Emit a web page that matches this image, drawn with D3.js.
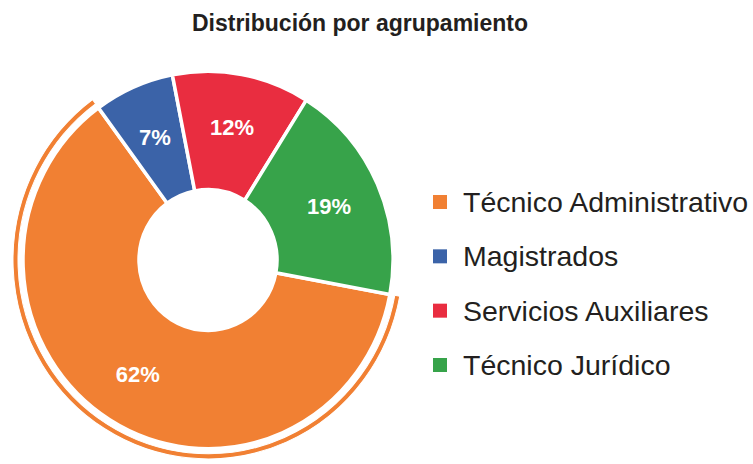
<!DOCTYPE html>
<html><head><meta charset="utf-8">
<script src="https://cdn.jsdelivr.net/npm/d3@7"></script>
<style>body{margin:0;background:#fff}svg{display:block}</style>
</head><body>
<svg id="chart" width="753" height="464"></svg>
<script>
const categories = ["Técnico Administrativo", "Magistrados", "Servicios Auxiliares", "Técnico Jurídico"];
const values = [62, 7, 12, 19];
const colors = ["#F18033", "#3B63A8", "#E92D40", "#37A34A"];
const title = "Distribución por agrupamiento";

const svg = d3.select("#chart");
const cx = 208, cy = 260, rOuter = 185, rInner = 69, sy = 1.02;
const start = 100.5 * Math.PI / 180;

svg.append("text").attr("x", 360).attr("y", 31).attr("text-anchor", "middle")
  .attr("font-family", "Liberation Sans, Arial, sans-serif")
  .attr("font-weight", "bold").attr("font-size", 23).attr("fill", "#231f20").text(title);

const pie = d3.pie().sort(null).startAngle(start).endAngle(start + 2 * Math.PI);
const arcs = pie(values);
const arc = d3.arc().innerRadius(rInner).outerRadius(rOuter);
const ring = d3.arc().innerRadius(190).outerRadius(195);
const g = svg.append("g").attr("transform", `translate(${cx},${cy}) scale(1,${sy})`);

g.selectAll("path.slice").data(arcs).enter().append("path")
  .attr("class", "slice").attr("d", arc)
  .attr("fill", (d, i) => colors[i]).attr("stroke", "#fff").attr("stroke-width", 3.5);

g.append("path").datum(arcs[0]).attr("d", ring).attr("fill", colors[0])
  .attr("stroke", "#fff").attr("stroke-width", 1);

const labels = svg.append("g").attr("transform", `translate(${cx},${cy})`);
labels.selectAll("text.lbl").data(arcs).enter().append("text")
  .attr("class", "lbl")
  .attr("transform", (d) => {
    const c = arc.centroid(d);
    return `translate(${c[0] * 1.04},${c[1] * 1.04 * sy})`;
  })
  .attr("text-anchor", "middle").attr("dy", "0.36em")
  .attr("font-family", "Liberation Sans, Arial, sans-serif").attr("font-weight", "bold")
  .attr("font-size", 22).attr("fill", "#fff")
  .text((d, i) => values[i] + "%");

const legend = svg.append("g");
const ly = d3.scalePoint().domain(categories).range([202, 365]);
const items = legend.selectAll("g").data(categories).enter().append("g")
  .attr("transform", d => `translate(433,${ly(d)})`);
items.append("rect").attr("x", 0).attr("y", -7).attr("width", 14).attr("height", 14)
  .attr("fill", (d, i) => colors[i]);
items.append("text").attr("x", 30).attr("dy", "0.35em")
  .attr("font-family", "Liberation Sans, Arial, sans-serif").attr("font-size", 28.5)
  .attr("fill", "#231f20").text(d => d);
</script>
</body></html>
